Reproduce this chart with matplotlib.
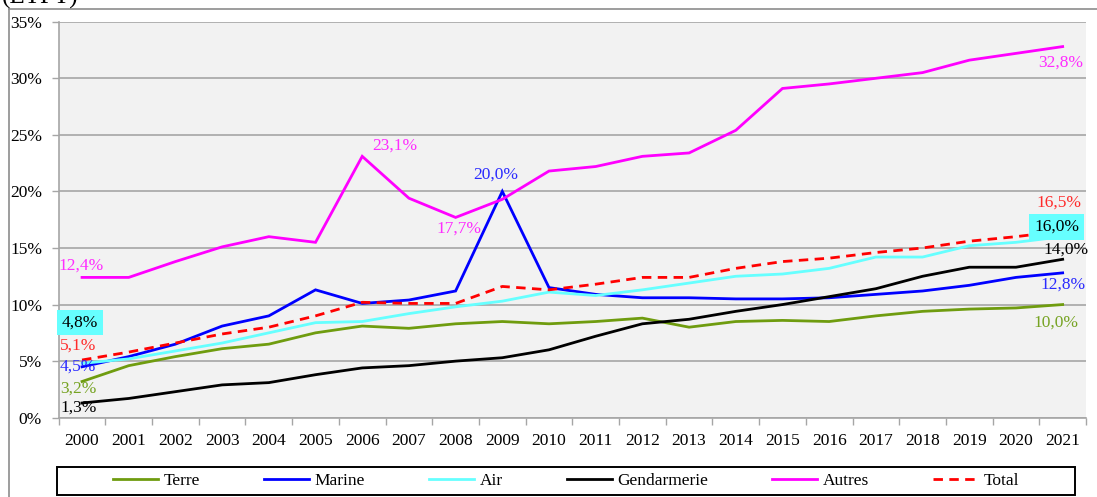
import matplotlib
matplotlib.use("Agg")
import matplotlib.pyplot as plt
from matplotlib.lines import Line2D
from matplotlib.patches import Rectangle

plt.rcParams['font.family'] = ['Liberation Serif', 'DejaVu Serif']

years = [str(y) for y in range(2000, 2022)]
terre = [3.2, 4.6, 5.4, 6.1, 6.5, 7.5, 8.1, 7.9, 8.3, 8.5, 8.3, 8.5, 8.8, 8.0, 8.5, 8.6, 8.5, 9.0, 9.4, 9.6, 9.7, 10.0]
marine = [4.5, 5.4, 6.5, 8.1, 9.0, 11.3, 10.1, 10.4, 11.2, 20.0, 11.5, 10.9, 10.6, 10.6, 10.5, 10.5, 10.6, 10.9, 11.2, 11.7, 12.4, 12.8]
air = [4.8, 5.2, 5.9, 6.6, 7.5, 8.4, 8.5, 9.2, 9.8, 10.3, 11.1, 10.8, 11.3, 11.9, 12.5, 12.7, 13.2, 14.2, 14.2, 15.2, 15.5, 16.0]
gendarmerie = [1.3, 1.7, 2.3, 2.9, 3.1, 3.8, 4.4, 4.6, 5.0, 5.3, 6.0, 7.2, 8.3, 8.7, 9.4, 10.0, 10.7, 11.4, 12.5, 13.3, 13.3, 14.0]
autres = [12.4, 12.4, 13.8, 15.1, 16.0, 15.5, 23.1, 19.4, 17.7, 19.3, 21.8, 22.2, 23.1, 23.4, 25.4, 29.1, 29.5, 30.0, 30.5, 31.6, 32.2, 32.8]
total = [5.1, 5.8, 6.6, 7.4, 8.0, 9.0, 10.2, 10.1, 10.1, 11.6, 11.3, 11.8, 12.4, 12.4, 13.2, 13.8, 14.1, 14.6, 15.0, 15.6, 16.0, 16.5]

series_names = ["Terre", "Marine", "Air", "Gendarmerie", "Autres", "Total"]
y_ticks = [0, 5, 10, 15, 20, 25, 30, 35]

# style per series
styles = {
    "Terre": dict(color="#6f9c0f", ls="-"),
    "Marine": dict(color="#0000ff", ls="-"),
    "Air": dict(color="#66ffff", ls="-"),
    "Gendarmerie": dict(color="#000000", ls="-"),
    "Autres": dict(color="#ff00ff", ls="-"),
    "Total": dict(color="#ff0000", ls=(0, (3.4, 2.3))),
}
label_colors = {
    "Terre": "#76a322", "Marine": "#2a2aff", "Air": "#000000",
    "Gendarmerie": "#000000", "Autres": "#ff2cff", "Total": "#ff2a2a",
}
# (index, dx px, dy px, boxed)
label_spec = {
    "Autres": [(0, -1, 12, False), (6, 33, 11, False), (8, 3, -11, False), (21, -2, -16, False)],
    "Marine": [(9, -7, 17, False), (0, -4, 0, False), (21, 0, -12, False)],
    "Air": [(0, -2, 41, True), (21, -6, 10, True)],
    "Total": [(0, -4, 14, False), (21, -4, 28, False)],
    "Terre": [(0, -4, -7, False), (21, -7, -18, False)],
    "Gendarmerie": [(0, -3, -5, False), (21, 3, 10, False)],
}
data = {"Terre": terre, "Marine": marine, "Air": air,
        "Gendarmerie": gendarmerie, "Autres": autres, "Total": total}

FS = 12.5
W, H = 1097, 497
fig = plt.figure(figsize=(W / 100, H / 100), dpi=100)
ax = fig.add_axes([58.7 / W, 1 - 417.7 / H, (1086 - 58.7) / W, (417.7 - 21.7) / H])
ax.set_facecolor("#f2f2f2")

x = list(range(len(years)))
for name in series_names:
    st = styles[name]
    ax.plot(x, data[name], color=st["color"], linestyle=st["ls"], lw=2.0,
            solid_joinstyle="miter", zorder=3)

for name in series_names:
    for (i, dx, dy, boxed) in label_spec.get(name, []):
        v = data[name][i]
        txt = f"{v:.1f}%".replace(".", ",")
        kw = {}
        if boxed:
            kw["bbox"] = dict(boxstyle="square,pad=0.28", fc="#66ffff", ec="none")
        ax.annotate(txt, xy=(i, v), xytext=(dx, dy), textcoords="offset pixels",
                    ha="center", va="center", fontsize=FS,
                    color=label_colors[name], zorder=5, annotation_clip=False, **kw)

ax.set_xlim(-0.5, len(years) - 0.5)
ax.set_ylim(0, 35)
ax.set_yticks(y_ticks)
ax.set_yticklabels([f"{t}%" for t in y_ticks])
ax.yaxis.grid(True, color="#a6a6a6", lw=1.2)
ax.set_axisbelow(True)
ax.set_xticks(x)
ax.set_xticklabels(years)
ax.set_xticks([i - 0.5 for i in range(len(years) + 1)], minor=True)
ax.tick_params(axis="x", which="major", length=0, pad=11, labelsize=FS, colors="#000000")
ax.tick_params(axis="x", which="minor", length=5, color="#a6a6a6", width=1)
ax.tick_params(axis="y", length=5, color="#a6a6a6", width=1, pad=7, labelsize=FS)
for s in ["top", "right"]:
    ax.spines[s].set_visible(False)
for s in ["left", "bottom"]:
    ax.spines[s].set_color("#a6a6a6")
    ax.spines[s].set_linewidth(1.2)

# legend frame and legend
fig.add_artist(Rectangle((57.3 / W, 1 - 495 / H), (1075 - 57.3) / W, 27.7 / H,
                         transform=fig.transFigure, fill=False, ec="#000000", lw=1.4))
leg_handles = [Line2D([], [], color=styles[n]["color"], linestyle=styles[n]["ls"], lw=2.0)
               for n in series_names]
fig.legend(leg_handles, series_names, loc="center",
           bbox_to_anchor=((57.3 + 1075) / 2 / W, 1 - 481 / H), ncol=6, frameon=False,
           fontsize=FS, handlelength=2.6, handletextpad=0.3, columnspacing=3.7)

# outer border and cut title
fig.add_artist(Line2D([9.3 / W, 9.3 / W], [0, 1 - 9.3 / H], transform=fig.transFigure,
                      color="#8c8c8c", lw=1.2))
fig.add_artist(Line2D([9.3 / W, 1], [1 - 9.3 / H, 1 - 9.3 / H], transform=fig.transFigure,
                      color="#8c8c8c", lw=1.2))
fig.text(0.002, 1 - 4 / H, "(ETPT)", fontsize=18, ha="left", va="baseline", color="#000000")

fig.savefig("out.png", dpi=100)
